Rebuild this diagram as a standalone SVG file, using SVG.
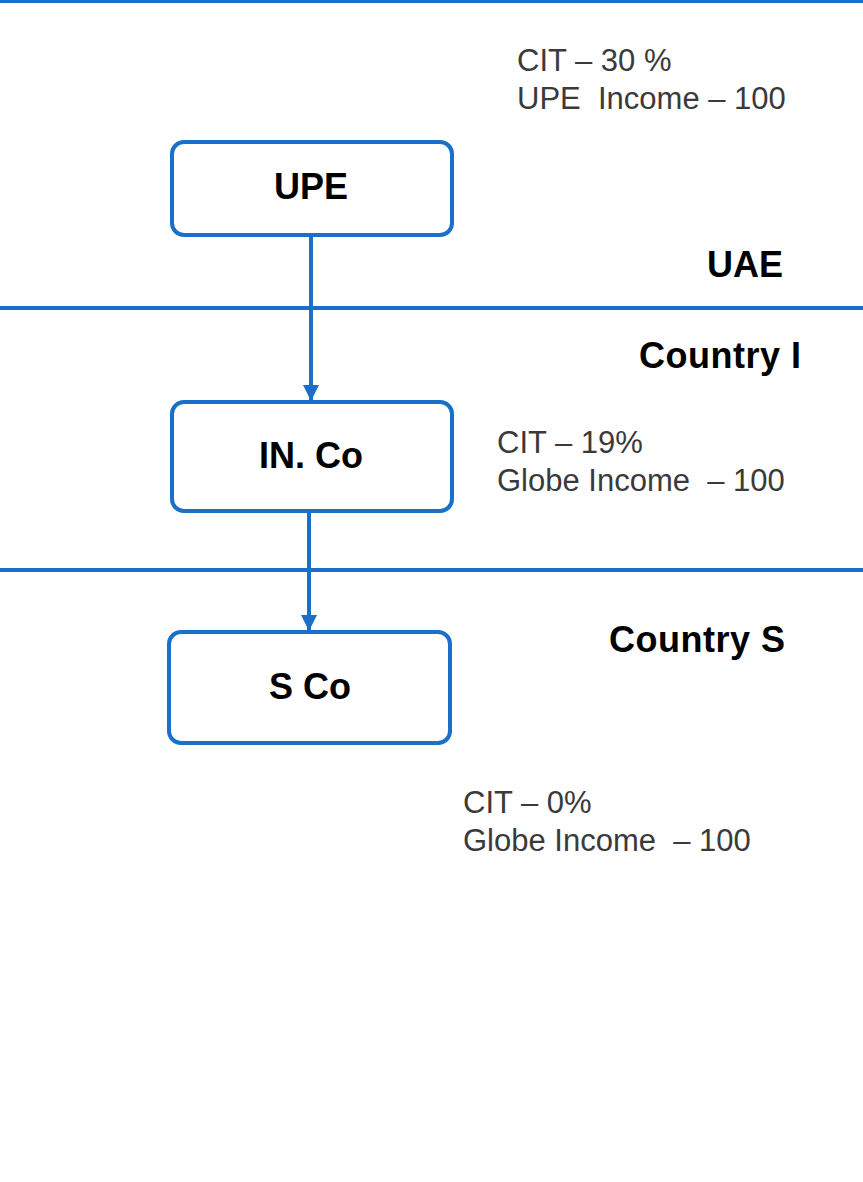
<svg xmlns="http://www.w3.org/2000/svg" width="863" height="1182" viewBox="0 0 863 1182">
<style>
.band{stroke:#1a70c8;stroke-width:4;fill:none}
.box{fill:#fff;stroke:#1a70c8;stroke-width:4}
.lbl{font-family:"Liberation Sans",Arial,sans-serif;font-weight:bold;font-size:36px;fill:#000}
.note{font-family:"Liberation Sans",Arial,sans-serif;font-size:31px;fill:#3a3a3a}
.conn{stroke:#1a70c8;stroke-width:4;fill:none}
</style>
<defs>
<marker id="ah" viewBox="0 0 10 10" refX="10" refY="5" markerWidth="4" markerHeight="4.4" orient="auto" markerUnits="strokeWidth">
<path d="M0,0 L10,5 L0,10 z" fill="#1a70c8"/>
</marker>
</defs>
<rect width="863" height="1182" fill="#fff"/>
<g id="bands">
<line class="band" x1="0" y1="1" x2="863" y2="1"/>
<line class="band" x1="0" y1="308" x2="863" y2="308"/>
<line class="band" x1="0" y1="570" x2="863" y2="570"/>
</g>
<g id="connectors">
<line class="conn" x1="311" y1="236" x2="311" y2="401" marker-end="url(#ah)"/>
<line class="conn" x1="309" y1="512" x2="309" y2="631" marker-end="url(#ah)"/>
</g>
<g id="upe">
<rect class="box" x="172" y="142" width="280" height="93" rx="12"/>
<text class="lbl" x="311" y="199" text-anchor="middle">UPE</text>
</g>
<g id="inco">
<rect class="box" x="172" y="402" width="280" height="109" rx="12"/>
<text class="lbl" x="311" y="468" text-anchor="middle">IN. Co</text>
</g>
<g id="sco">
<rect class="box" x="169" y="632" width="281" height="111" rx="12"/>
<text class="lbl" x="310" y="699" text-anchor="middle">S Co</text>
</g>
<g id="labels">
<text class="lbl" x="707" y="277">UAE</text>
<text class="lbl" x="639" y="368" letter-spacing="0.5">Country I</text>
<text class="lbl" x="609" y="652" letter-spacing="0.5">Country S</text>
</g>
<g id="notes">
<text class="note" x="517" y="71">CIT – 30 %</text>
<text class="note" x="517" y="109" xml:space="preserve">UPE  Income – 100</text>
<text class="note" x="497" y="453">CIT – 19%</text>
<text class="note" x="497" y="491" xml:space="preserve">Globe Income  – 100</text>
<text class="note" x="463" y="813">CIT – 0%</text>
<text class="note" x="463" y="851" xml:space="preserve">Globe Income  – 100</text>
</g>
</svg>
